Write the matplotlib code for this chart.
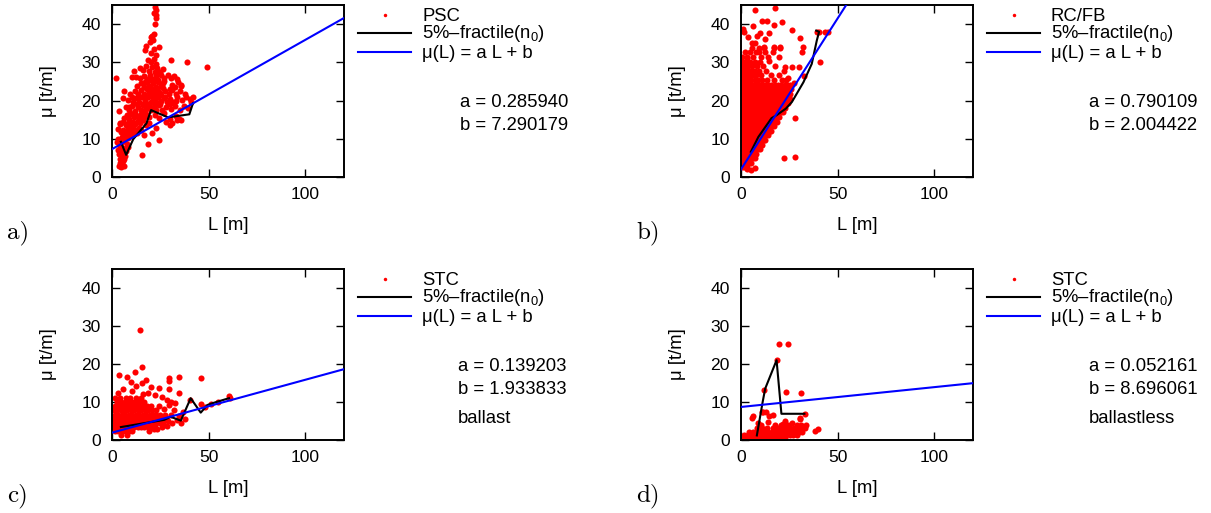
import matplotlib
matplotlib.use('Agg')
import matplotlib.pyplot as plt
import numpy as np
from matplotlib.lines import Line2D

W, H = 1211, 513
plt.rcParams['font.family'] = ['Liberation Sans', 'DejaVu Sans']
plt.rcParams['mathtext.fontset'] = 'custom'
plt.rcParams['mathtext.rm'] = 'Liberation Sans'
plt.rcParams['mathtext.it'] = 'Liberation Sans:italic'

# ---------------- data ----------------
# panel a) PSC
psc_points = [
    (3.5,2.8),(4.0,3.6),(4.6,2.5),(5.1,3.2),(5.6,4.1),(6.1,3.0),(4.2,4.7),(5.2,5.3),(6.3,4.8),
    (3.8,5.9),(4.8,6.5),(5.8,6.3),(6.8,5.6),(3.3,7.0),(4.3,7.8),(5.5,7.5),(6.5,7.3),(7.3,6.7),
    (3.6,8.8),(4.7,9.0),(7.5,8.6),(6.2,9.5),(8.3,7.9),
    (2.5,9.2),(3.2,10.0),(4.0,9.6),(5.0,10.5),(6.0,9.8),(7.0,10.8),(8.2,10.2),(9.0,11.0),(10.5,10.6),(11.5,11.3),
    (3.0,12.5),(4.5,11.8),(5.8,12.2),(7.2,12.0),(8.5,12.6),(9.8,12.0),(11.0,12.8),(12.5,12.2),(13.8,12.9),(15.0,12.4),
    (4.0,13.8),(5.5,14.5),(7.0,13.5),(8.2,14.2),(9.5,13.6),(10.8,14.5),(12.0,13.8),(13.2,14.6),(14.5,14.0),(16.0,14.8),(17.5,13.5),(19.0,14.2),
    (6.0,15.5),(7.5,16.2),(8.8,15.3),(10.0,16.5),(11.3,15.6),(12.6,16.3),(13.8,15.4),(15.2,16.6),(16.5,15.8),(17.8,16.5),(19.2,15.6),
    (22.0,16.2),(24.5,15.5),(27.0,16.8),(30.0,15.3),(33.0,16.0),(35.5,15.0),(28.0,14.5),(31.0,14.0),(33.5,14.8),(30.0,13.6),
    (7.0,18.2),(9.0,17.5),(10.5,18.5),(12.0,17.3),(13.5,18.4),(14.8,17.6),(16.2,18.8),(17.5,17.8),(18.8,18.6),(20.2,17.4),
    (21.5,18.3),(23.0,17.6),(24.5,18.8),(26.0,17.5),(28.0,18.2),(30.5,17.8),(32.5,18.5),(35.0,17.4),(37.0,18.6),(39.5,18.0),(41.0,19.5),
    (8.5,20.2),(11.0,19.5),(12.5,20.6),(14.0,19.6),(15.5,20.8),(17.0,19.8),(18.5,20.9),(20.0,19.7),(21.3,20.6),(22.8,19.5),
    (24.0,20.8),(25.5,19.8),(27.0,20.6),(28.5,19.5),(30.0,20.5),(31.5,19.6),(33.5,20.8),(36.0,20.2),(38.5,20.9),(40.5,20.3),(42.0,21.0),
    (9.5,21.8),(12.0,22.5),(13.5,21.6),(15.0,22.8),(16.5,21.8),(18.0,22.9),(19.5,21.7),(21.0,22.8),(22.5,21.9),(24.0,22.6),
    (25.5,21.5),(27.5,22.4),(29.5,21.6),(31.0,22.8),(33.0,21.8),(35.0,22.5),(37.5,21.6),
    (13.0,23.8),(15.0,24.5),(16.5,23.6),(18.0,24.8),(19.5,23.7),(21.0,24.6),(22.5,23.5),(24.0,24.8),(25.5,23.9),(27.0,25.0),
    (31.0,24.2),(32.5,23.5),(34.0,24.8),(35.5,23.8),(35.9,24.1),
    (14.5,25.8),(16.5,26.5),(18.0,25.6),(19.5,26.8),(21.0,25.7),(22.5,26.6),(24.0,25.5),(25.5,26.7),(27.0,26.0),(29.0,26.8),
    (30.5,25.8),(32.0,26.5),(33.5,25.6),
    (16.0,28.0),(17.5,29.0),(19.0,27.8),(20.5,28.8),(22.0,27.6),(23.5,28.5),(25.0,27.5),(26.5,28.2),(18.5,30.5),(20.0,30.0),
    (21.5,31.0),(22.5,29.5),
    (20.0,32.5),(21.5,33.5),(23.0,32.0),(17.0,33.2),(17.8,34.2),(19.8,35.2),(21.0,35.8),(24.2,34.0),(20.8,37.0),(21.5,37.5),
    (20.3,36.5),(22.2,40.0),(22.6,41.5),(22.8,42.5),(23.0,43.6),(22.3,44.5),(21.8,43.0),
    (2.3,26.0),(11.5,27.8),(14.4,28.4),(10.6,26.1),(12.3,26.1),(6.2,22.4),(5.8,20.6),(10.6,21.0),(8.9,18.2),(30.3,30.5),
    (38.8,30.2),(49.0,28.7),(15.4,5.8),(18.6,8.6),(24.4,9.7),(20.5,11.4),(34.5,15.2),(22.5,12.8),(16.8,11.0),(3.5,17.2),(4.0,14.2),
    (15.8,19.2),(17.2,20.4),(18.6,19.0),(20.8,21.5),(22.0,20.2),(23.5,21.2),(19.0,22.2),(20.3,23.4),(23.2,23.0),(26.5,23.2),
    (24.8,22.0),(17.3,21.2),(18.8,23.6),(21.8,25.2),(23.0,25.8),(26.2,24.5),(20.0,25.5),(16.0,17.2),(19.6,18.2),(22.2,18.8),
    (25.0,19.2),(27.5,21.0),(29.8,23.0),(30.2,19.0),(33.0,19.8),(17.0,24.8),(14.0,21.0),(11.5,16.8),(13.0,19.2),(9.8,14.0),
    (12.7,11.5),(6.5,11.5),
]
psc_frac_L = [4.6, 7.3, 11.0, 17.8, 20.2, 29.0, 34.5, 40.0, 41.9]
psc_frac_mu = [9.2, 5.8, 9.9, 14.0, 17.5, 15.6, 16.0, 16.4, 19.3]
psc_a, psc_b = 0.285940, 7.290179

# panel b) RC/FB
rcfb_dense_rows = [
    (2.5, [0.4,1.8,3.2]),
    (3.7, [0.8,2.4,4.0,5.3]),
    (4.9, [0.3,1.6,3.0,4.5,6.0,7.0]),
    (6.1, [0.9,2.3,3.8,5.2,6.6,8.0]),
    (7.3, [0.4,1.7,3.1,4.6,6.0,7.4,8.8,9.8]),
    (8.5, [1.0,2.4,3.9,5.3,6.8,8.2,9.6,11.0]),
    (9.7, [0.5,1.8,3.2,4.7,6.1,7.6,9.0,10.4,11.8,12.6]),
    (10.9,[1.1,2.5,4.0,5.4,6.9,8.3,9.8,11.2,12.6,13.9]),
    (12.1,[0.6,1.9,3.3,4.8,6.2,7.7,9.1,10.6,12.0,13.4,14.8,15.5]),
    (13.3,[1.2,2.6,4.1,5.5,7.0,8.4,9.9,11.3,12.8,14.2,15.6,16.9]),
    (14.5,[0.5,2.0,3.4,4.9,6.3,7.8,9.2,10.7,12.1,13.6,15.0,16.4,17.8,18.5]),
    (15.7,[1.1,2.6,4.0,5.5,6.9,8.4,9.8,11.3,12.7,14.2,15.6,17.1,18.5,19.8]),
    (16.9,[0.6,2.0,3.5,4.9,6.4,7.8,9.3,10.7,12.2,13.6,15.1,16.5,18.0,19.4,20.8,21.5]),
    (18.1,[1.2,2.7,4.1,5.6,7.0,8.5,9.9,11.4,12.8,14.3,15.7,17.2,18.6,20.1,21.5,22.8]),
    (19.3,[0.5,2.0,3.4,4.9,6.3,7.8,9.2,10.7,12.1,13.6,15.0,16.5,17.9,19.4,20.8,22.3,23.7,24.5]),
    (20.5,[1.1,2.6,4.0,5.5,6.9,8.4,9.8,11.3,12.7,14.2,15.6,17.1,18.5,20.0,21.4,22.9,24.3,25.5]),
    (21.7,[0.6,2.1,3.5,5.0,6.4,7.9,9.3,10.8,12.2,13.7,15.1,16.6,18.0,19.5,20.9,22.4,23.8,25.2]),
    (22.9,[1.2,2.7,4.1,5.6,7.0,8.5,9.9,11.4,12.8,14.3,15.7,17.2,18.6,20.1,21.5,23.0,24.4,25.8]),
    (24.1,[0.5,2.0,3.4,4.9,6.3,7.8,9.4,11.0,12.5,14.0,15.6,17.5,19.0,20.8,22.5,24.0,25.5]),
    (25.4,[0.9,2.5,3.8,5.2,7.0,8.6,11.0,13.5,17.0,21.0,23.5]),
    (26.6,[0.5,1.8,3.3,4.6,6.2,8.0,10.5,15.5,19.5]),
    (27.8,[1.0,2.4,4.0,5.5,7.3,9.5,13.0,22.0]),
    (29.0,[0.6,2.0,3.6,5.8,8.2,11.5,17.5]),
    (30.2,[1.0,2.8,4.6,7.0,9.8]),
    (31.4,[0.7,3.2,6.0,10.5,14.0]),
    (32.6,[2.0,4.5,8.0,12.5,16.8]),
    (33.8,[5.5,9.5,11.7,16.9,20.0]),
]
rcfb_points = [
    (7.4,43.7),(17.7,44.1),(1.0,38.7),(1.5,38.0),(6.2,39.5),(10.8,40.9),(13.4,40.9),(16.9,39.8),(21.2,40.6),(26.4,38.5),
    (10.0,37.6),(14.3,37.6),(5.7,35.0),(7.4,35.0),(30.7,36.3),(32.0,34.1),(31.6,32.8),(11.7,34.1),(16.9,34.1),(20.0,34.1),
    (3.1,31.1),(9.2,32.8),(14.7,30.4),(19.5,31.3),(22.9,28.7),(26.4,28.7),(29.8,28.7),(40.9,30.0),(32.8,26.3),(39.2,38.0),
    (43.5,38.0),(45.2,38.0),(40.3,38.0),(28.0,15.4),(22.0,4.9),(28.0,5.2),(7.4,2.3),(3.1,2.2),(5.0,1.8),(24.5,26.0),
    (27.5,24.5),(3.5,36.5),(12.5,36.0),(8.5,36.8),
]
rcfb_frac_L = [5.1, 9.0, 15.8, 18.5, 23.2, 26.3, 32.3, 36.6, 39.2, 40.4, 38.9]
rcfb_frac_mu = [6.6, 10.5, 15.4, 16.2, 17.9, 19.6, 24.8, 29.6, 35.7, 38.0, 38.3]
rcfb_a, rcfb_b = 0.790109, 2.004422

# panel c) STC ballast
stc_bal_rows = [
    (1.3, [4.8,7.5]),
    (2.3, [1.5,3.2,5.0,6.8,8.6,10.2,19.0]),
    (3.4, [0.8,2.5,4.2,6.0,7.8,9.6,11.4,13.2,15.0,16.8,18.5,20.2,22.0]),
    (4.5, [1.4,3.2,5.0,6.8,8.6,10.4,12.2,14.0,15.8,17.6,19.4,21.2,23.0,24.8,26.5]),
    (5.6, [0.8,2.6,4.4,6.2,8.0,9.8,11.6,13.4,15.2,17.0,18.8,20.6,22.4,24.2,26.0,28.0]),
    (6.7, [1.4,3.2,5.0,6.8,8.6,10.4,12.2,14.0,15.8,17.6,19.4,21.2,23.0,25.0,27.5]),
    (7.8, [0.8,2.6,4.4,6.2,8.0,9.8,11.6,13.4,15.2,17.0,18.8,20.6,22.5]),
    (8.9, [1.5,3.4,5.2,7.0,8.8,10.6,12.4,14.2,16.0,18.0,20.0]),
    (10.0,[2.5,4.5,6.5,8.5,10.2,12.0,14.0,16.5]),
    (11.1,[4.0,7.0,9.5,12.5,15.0]),
]
stc_bal_points = [
    (14.4,28.9),(15.6,19.3),(3.6,17.1),(11.9,18.0),(7.9,16.5),(9.6,15.2),(15.3,14.9),(17.4,15.8),(20.0,13.9),(24.2,13.6),
    (29.7,16.2),(29.7,15.6),(34.5,16.5),(46.0,16.2),(34.5,12.3),(29.7,13.3),(5.5,13.5),(12.5,14.2),(18.5,12.5),(22.0,11.8),
    (26.0,11.2),(3.0,12.3),(1.5,11.0),(10.5,12.8),(16.0,12.0),(28.2,10.5),(30.6,10.1),(29.0,5.0),(30.5,6.5),(32.0,7.8),
    (33.5,5.2),(34.5,6.4),(31.0,4.4),(28.5,3.8),(26.0,3.3),(23.5,2.8),(21.5,3.0),(35.5,4.4),(36.5,7.5),(38.0,5.5),
    (40.5,10.5),(46.0,9.6),(48.0,8.6),(51.0,9.5),(55.0,10.0),(60.5,11.5),(60.8,11.0),(24.5,9.0),(26.8,8.2),(29.5,9.2),(32.5,9.8),
]
stc_bal_frac_L = [4.6, 27.0, 30.4, 35.6, 40.7, 45.9, 49.3, 52.7, 60.5]
stc_bal_frac_mu = [3.4, 5.3, 6.1, 5.1, 11.0, 7.2, 9.2, 9.8, 11.0]
stc_bal_a, stc_bal_b = 0.139203, 1.933833

# panel d) STC ballastless
stc_bl_rows = [
    (0.4, [1.0,2.8,4.6,6.4,8.2,10.0,11.8,13.6,15.4,17.2,19.0,21.0,23.0]),
    (1.3, [1.8,3.6,5.4,7.2,9.0,10.8,12.6,14.4,16.2,18.0,19.8,21.6,23.4,25.2,27.0,28.8]),
    (2.2, [4.0,6.0,8.0,10.0,12.0,14.0,16.0,18.0,20.0,22.0,24.0,26.0,28.0,30.0,31.8]),
    (3.1, [8.5,11.0,13.5,16.5,19.0,21.5,23.5,25.5,27.5,29.5,31.5,33.0]),
    (3.9, [10.5,17.5,20.5,24.5,28.8,31.0,33.5]),
]
stc_bl_points = [
    (19.7,25.2),(24.4,25.2),(23.2,12.7),(31.2,12.5),(18.4,21.0),(12.0,13.2),(11.5,7.5),(12.8,7.5),(6.3,6.4),(5.5,5.7),
    (14.4,6.3),(16.5,6.5),(10.8,7.4),(30.6,5.9),(33.1,6.8),(40.0,2.9),(21.5,4.1),(22.5,4.9),(38.5,2.5),(30.4,5.4),
    (9.0,4.5),(14.0,4.8),(26.5,4.6),
]
stc_bl_frac_L = [8.2, 11.2, 12.5, 18.4, 20.9, 32.8]
stc_bl_frac_mu = [1.2, 10.0, 13.5, 21.0, 6.9, 6.9]
stc_bl_a, stc_bl_b = 0.052161, 8.696061

x_ticks = [0, 50, 100]
y_ticks = [0, 10, 20, 30, 40]


def expand(rows, pts):
    Ls, Ms = [], []
    for mu, lst in rows:
        for L in lst:
            Ls.append(L)
            Ms.append(mu)
    for L, mu in pts:
        Ls.append(L)
        Ms.append(mu)
    return Ls, Ms


panels = [
    dict(box=(112, 5, 344, 177), name='PSC', rows=[], pts=psc_points, fL=psc_frac_L, fM=psc_frac_mu,
         a=psc_a, b=psc_b, extra=None, tag='a)', adx=116),
    dict(box=(741, 5, 973, 177), name='RC/FB', rows=rcfb_dense_rows, pts=rcfb_points, fL=rcfb_frac_L, fM=rcfb_frac_mu,
         a=rcfb_a, b=rcfb_b, extra=None, tag='b)', adx=116),
    dict(box=(112, 269, 344, 440), name='STC', rows=stc_bal_rows, pts=stc_bal_points, fL=stc_bal_frac_L, fM=stc_bal_frac_mu,
         a=stc_bal_a, b=stc_bal_b, extra='ballast', tag='c)', adx=114),
    dict(box=(741, 269, 973, 440), name='STC', rows=stc_bl_rows, pts=stc_bl_points, fL=stc_bl_frac_L, fM=stc_bl_frac_mu,
         a=stc_bl_a, b=stc_bl_b, extra='ballastless', tag='d)', adx=116),
]

fig = plt.figure(figsize=(W / 100, H / 100), dpi=100)


def fx(x):
    return x / W


def fy(y):
    return 1 - y / H


TXT = 13.3
for p in panels:
    l, t, r, btm = p['box']
    ax = fig.add_axes([fx(l), fy(btm), (r - l) / W, (btm - t) / H])
    Ls, Ms = expand(p['rows'], p['pts'])
    ax.plot(Ls, Ms, 'o', color='#ff0000', ms=4.4, mec='none', ls='none', zorder=2)
    ax.plot(p['fL'], p['fM'], color='black', lw=1.5, zorder=3)
    xs = np.array([0.0, 120.0])
    ax.plot(xs, p['a'] * xs + p['b'], color='#0000ff', lw=1.5, zorder=4)
    ax.set_xlim(0, 120)
    ax.set_ylim(0, 45)
    ax.set_xticks(x_ticks)
    ax.set_yticks(y_ticks)
    ax.tick_params(direction='in', top=True, right=True, length=6, width=1.0, labelsize=12.6, color='black')
    ax.tick_params(axis='x', pad=7.0)
    ax.tick_params(axis='y', pad=8.0)
    for s in ax.spines.values():
        s.set_linewidth(1.4)

    # axis labels
    cx = (l + r) / 2
    fig.text(fx(cx), fy(btm + 48.5), 'L [m]', ha='center', va='center', fontsize=TXT)
    fig.text(fx(l - 63.5), fy((t + btm) / 2), 'μ [t/m]', ha='center', va='center', rotation=90, fontsize=TXT)

    # legend
    fig.add_artist(Line2D([fx(r + 41)], [fy(t + 10)], marker='o', ms=2.5, color='#ff0000', mec='none',
                          ls='none', transform=fig.transFigure))
    fig.add_artist(Line2D([fx(r + 14), fx(r + 67)], [fy(t + 28), fy(t + 28)], color='black', lw=1.5,
                          transform=fig.transFigure))
    fig.add_artist(Line2D([fx(r + 14), fx(r + 67)], [fy(t + 47), fy(t + 47)], color='#0000ff', lw=1.5,
                          transform=fig.transFigure))
    fig.text(fx(r + 78), fy(t + 15.7), p['name'], ha='left', va='baseline', fontsize=TXT)
    fig.text(fx(r + 78), fy(t + 32.5), '5%–fractile(n$_0$)', ha='left', va='baseline', fontsize=TXT)
    fig.text(fx(r + 78), fy(t + 53.3), 'μ(L) = a L + b', ha='left', va='baseline', fontsize=TXT)
    fig.text(fx(r + p['adx']), fy(t + 102), f"a = {p['a']:.6f}", ha='left', va='baseline', fontsize=TXT)
    fig.text(fx(r + p['adx']), fy(t + 125), f"b = {p['b']:.6f}", ha='left', va='baseline', fontsize=TXT)
    if p['extra']:
        fig.text(fx(r + p['adx']), fy(t + 154), p['extra'], ha='left', va='baseline', fontsize=TXT)

    # panel tag
    fig.text(fx(l - 105), fy(btm + 56), p['tag'], ha='left', va='center', fontsize=18, family='cmr10')

fig.savefig('out.png', dpi=100)
